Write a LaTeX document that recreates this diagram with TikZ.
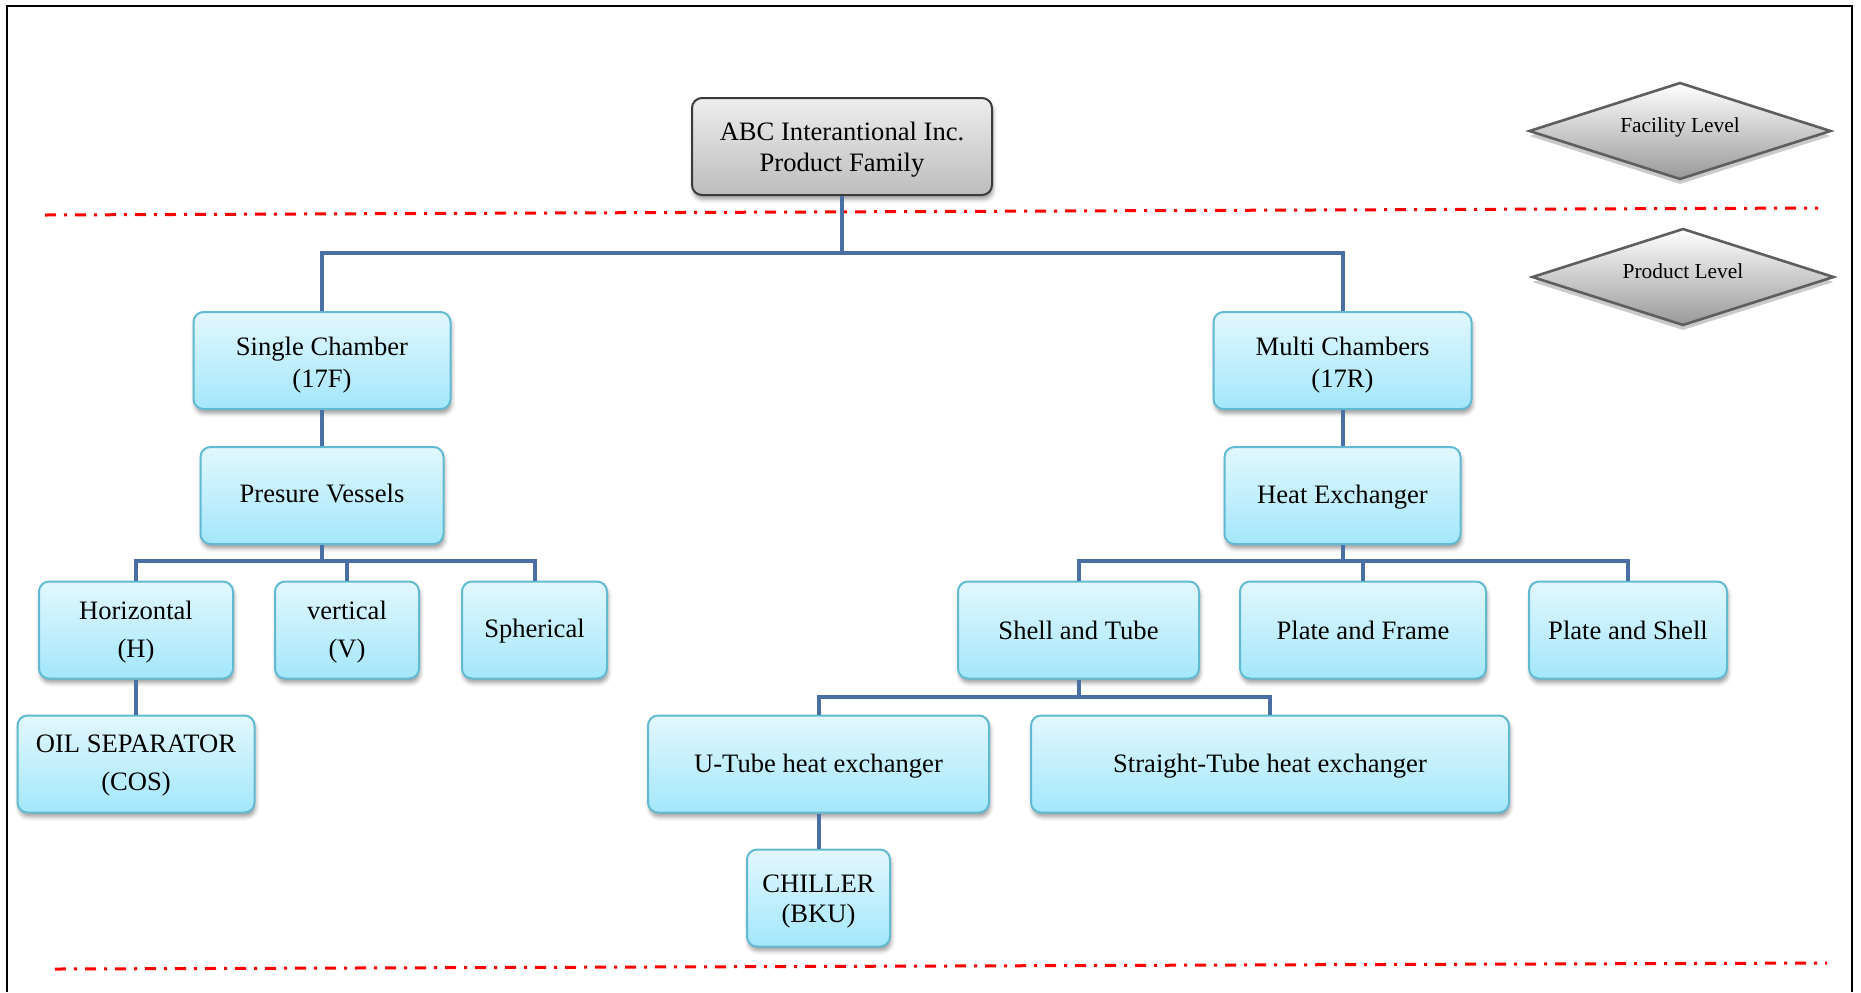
\documentclass[tikz,border=0pt]{standalone}
\usepackage{fontspec}
\setmainfont{Liberation Serif}
\usetikzlibrary{shapes.geometric,shadows,shadows.blur}

\definecolor{boxtop}{HTML}{E2F7FE}
\definecolor{boxbot}{HTML}{A3E7FB}
\definecolor{boxline}{HTML}{62BAD2}
\definecolor{rootline}{HTML}{3A3A3A}
\definecolor{connblue}{HTML}{4A6FA5}
\definecolor{diamline}{HTML}{5E5E5E}

% shift a (possibly multi-line) label vertically without changing its box
\newcommand\shiftedtext[2][0pt]{%
  \raisebox{#1}[\height][\depth]{\begin{tabular}{@{}c@{}}#2\end{tabular}}}

\begin{document}
\begin{tikzpicture}[x=0.5pt,y=-0.5pt,
  basebox/.style={rounded corners=5pt, align=center, inner sep=2pt,
    minimum height=48.5pt,
    blur shadow={shadow xshift=0.6pt, shadow yshift=-2.2pt,
      shadow blur radius=2pt, shadow opacity=38}},
  catbox/.style={basebox, draw=boxline, line width=1pt,
    top color=boxtop, bottom color=boxbot,
    font=\fontsize{13.3}{16}\selectfont},
  tallbox/.style={catbox, font=\fontsize{13.3}{19}\selectfont},
  rootbox/.style={basebox, draw=rootline, line width=1pt,
    top color=black!7, bottom color=black!26,
    font=\fontsize{13.3}{15.5}\selectfont},
  levelmark/.style={diamond, aspect=3.1, draw=diamline, line width=1.3pt,
    minimum width=151pt, minimum height=48.5pt, inner sep=0pt,
    top color=white, bottom color=black!40,
    font=\fontsize{10.7}{12}\selectfont,
    drop shadow={shadow xshift=0pt, shadow yshift=-2.5pt,
      fill=black!35, opacity=0.6}},
  conn/.style={draw=connblue, line width=2pt},
  levelline/.style={draw=red, line width=1.5pt,
    dash pattern=on 5.5pt off 4pt on 1.5pt off 4pt}
]
\useasboundingbox (0,0) rectangle (1861,992);

% outer frame (open at the bottom)
\draw[line width=1.25pt] (7,992) -- (7,6) -- (1852,6) -- (1852,992);

% level separators
\draw[levelline] (45,215) -- (1818,208);
\draw[levelline] (55,969) -- (1827,963);

% level markers
\node[levelmark] (facility) at (1680,131) {\shiftedtext[1.8pt]{Facility Level}};
\node[levelmark] (product) at (1683,277) {\shiftedtext[1.8pt]{Product Level}};

% bus heights
\coordinate (busTop) at (0,253);
\coordinate (busMid) at (0,561);
\coordinate (busLow) at (0,697);

% root
\node[rootbox, minimum width=150pt] (root) at (842,146.5)
  {\shiftedtext[-1.8pt]{ABC Interantional Inc.\\Product Family}};

% product level
\node[catbox, minimum width=128.5pt] (single) at (322,360.5)
  {\shiftedtext[-2.4pt]{Single Chamber\\(17F)}};
\node[catbox, minimum width=129pt] (multi) at (1342.5,360.5)
  {\shiftedtext[-2.4pt]{Multi Chambers\\(17R)}};

\node[catbox, minimum width=121.5pt] (vessels) at (322,495.5) {\shiftedtext[-0.5pt]{Presure Vessels}};
\node[catbox, minimum width=118pt] (heatex) at (1342.5,495.5) {\shiftedtext[-1pt]{Heat Exchanger}};

% vessel types
\node[tallbox, minimum width=97pt] (horiz) at (136,630) {\shiftedtext[-0.6pt]{Horizontal\\(H)}};
\node[tallbox, minimum width=72pt] (vert) at (347,630) {\shiftedtext[-0.6pt]{vertical\\(V)}};
\node[catbox, minimum width=72.5pt] (spher) at (534.5,630) {\shiftedtext[-0.5pt]{Spherical}};

% exchanger types
\node[catbox, minimum width=120.5pt] (shell) at (1078.5,630) {Shell and Tube};
\node[catbox, minimum width=123pt] (pframe) at (1363,630) {Plate and Frame};
\node[catbox, minimum width=99pt] (pshell) at (1628,630) {Plate and Shell};

% products
\node[tallbox, minimum width=118.5pt] (oil) at (136,764) {\shiftedtext[0.3pt]{OIL SEPARATOR\\(COS)}};
\node[catbox, minimum width=170.5pt] (utube) at (818.5,764) {\shiftedtext[-1pt]{U-Tube heat exchanger}};
\node[catbox, minimum width=239pt] (straight) at (1270,764) {\shiftedtext[-1pt]{Straight-Tube heat exchanger}};
\node[catbox, font=\fontsize{13.3}{15}\selectfont, minimum width=71.5pt] (chiller) at (818.5,898)
  {\shiftedtext[-1.5pt]{CHILLER\\(BKU)}};

% connectors
\draw[conn] (root.south) -- (root.south |- busTop) -| (single.north);
\draw[conn] (root.south) -- (root.south |- busTop) -| (multi.north);
\draw[conn] (single.south) -- (vessels.north);
\draw[conn] (multi.south) -- (heatex.north);
\draw[conn] (vessels.south) -- (vessels.south |- busMid) -| (horiz.north);
\draw[conn] (vessels.south) -- (vessels.south |- busMid) -| (vert.north);
\draw[conn] (vessels.south) -- (vessels.south |- busMid) -| (spher.north);
\draw[conn] (heatex.south) -- (heatex.south |- busMid) -| (shell.north);
\draw[conn] (heatex.south) -- (heatex.south |- busMid) -| (pframe.north);
\draw[conn] (heatex.south) -- (heatex.south |- busMid) -| (pshell.north);
\draw[conn] (horiz.south) -- (oil.north);
\draw[conn] (shell.south) -- (shell.south |- busLow) -| (utube.north);
\draw[conn] (shell.south) -- (shell.south |- busLow) -| (straight.north);
\draw[conn] (utube.south) -- (chiller.north);
\end{tikzpicture}
\end{document}
